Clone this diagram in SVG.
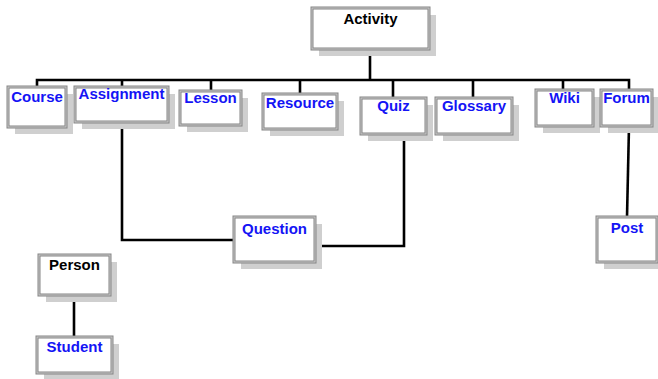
<svg xmlns="http://www.w3.org/2000/svg" width="658" height="379" viewBox="0 0 658 379">
  <style>
    .shadow { fill: #cfcfcf; }
    .frame { fill: #ffffff; stroke: #858585; stroke-width: 3; }
    .frame-in { fill: none; stroke: #cacaca; stroke-width: 1; }
    .label { font-family: "Liberation Sans", Arial, sans-serif; font-weight: bold; font-size: 15px; text-anchor: middle; fill: #1414f5; }
    .label.root { fill: #000000; }
    .wire { fill: none; stroke: #000000; stroke-width: 2.6; stroke-linejoin: miter; }
  </style>

  <!-- connectors -->
  <g id="connectors">
    <path class="wire" d="M370,49 V80"/>
    <path class="wire" d="M37,87 V80 H629 V90"/>
    <path class="wire" d="M122,80 V87"/>
    <path class="wire" d="M211,80 V91"/>
    <path class="wire" d="M300,80 V94"/>
    <path class="wire" d="M393,80 V98"/>
    <path class="wire" d="M473,80 V98"/>
    <path class="wire" d="M563,80 V90"/>
    <path class="wire" d="M122,122 V240 H234"/>
    <path class="wire" d="M315,246 H404 V134"/>
    <path class="wire" d="M629,126 L627,217"/>
    <path class="wire" d="M74,295 V337"/>
  </g>

  <g id="activity">
    <rect class="shadow" x="319" y="15" width="117" height="41"/>
    <rect class="frame" x="312" y="8" width="117" height="41"/>
    <rect class="frame-in" x="312" y="8" width="117" height="41"/>
    <text class="label root" x="370.5" y="24">Activity</text>
  </g>

  <g id="course">
    <rect class="shadow" x="15" y="94" width="58" height="40"/>
    <rect class="frame" x="8" y="87" width="58" height="40"/>
    <rect class="frame-in" x="8" y="87" width="58" height="40"/>
    <text class="label" x="37" y="102">Course</text>
  </g>

  <g id="assignment">
    <rect class="shadow" x="82" y="94" width="93" height="35"/>
    <rect class="frame" x="75" y="87" width="93" height="35"/>
    <rect class="frame-in" x="75" y="87" width="93" height="35"/>
    <text class="label" x="121.5" y="99">Assignment</text>
  </g>

  <g id="lesson">
    <rect class="shadow" x="187" y="98" width="61" height="34"/>
    <rect class="frame" x="180" y="91" width="61" height="34"/>
    <rect class="frame-in" x="180" y="91" width="61" height="34"/>
    <text class="label" x="210.5" y="103">Lesson</text>
  </g>

  <g id="resource">
    <rect class="shadow" x="270" y="101" width="74" height="35"/>
    <rect class="frame" x="263" y="94" width="74" height="35"/>
    <rect class="frame-in" x="263" y="94" width="74" height="35"/>
    <text class="label" x="300" y="108">Resource</text>
  </g>

  <g id="quiz">
    <rect class="shadow" x="368" y="105" width="65" height="36"/>
    <rect class="frame" x="361" y="98" width="65" height="36"/>
    <rect class="frame-in" x="361" y="98" width="65" height="36"/>
    <text class="label" x="393.5" y="111">Quiz</text>
  </g>

  <g id="glossary">
    <rect class="shadow" x="443" y="105" width="76" height="36"/>
    <rect class="frame" x="436" y="98" width="76" height="36"/>
    <rect class="frame-in" x="436" y="98" width="76" height="36"/>
    <text class="label" x="474" y="111">Glossary</text>
  </g>

  <g id="wiki">
    <rect class="shadow" x="543" y="97" width="57" height="36"/>
    <rect class="frame" x="536" y="90" width="57" height="36"/>
    <rect class="frame-in" x="536" y="90" width="57" height="36"/>
    <text class="label" x="564.5" y="103">Wiki</text>
  </g>

  <g id="forum">
    <rect class="shadow" x="608" y="97" width="51" height="36"/>
    <rect class="frame" x="601" y="90" width="51" height="36"/>
    <rect class="frame-in" x="601" y="90" width="51" height="36"/>
    <text class="label" x="626.5" y="103">Forum</text>
  </g>

  <g id="question">
    <rect class="shadow" x="241" y="224" width="81" height="45"/>
    <rect class="frame" x="234" y="217" width="81" height="45"/>
    <rect class="frame-in" x="234" y="217" width="81" height="45"/>
    <text class="label" x="274.5" y="234">Question</text>
  </g>

  <g id="post">
    <rect class="shadow" x="604" y="224" width="60" height="45"/>
    <rect class="frame" x="597" y="217" width="60" height="45"/>
    <rect class="frame-in" x="597" y="217" width="60" height="45"/>
    <text class="label" x="627" y="233">Post</text>
  </g>

  <g id="person">
    <rect class="shadow" x="46" y="262" width="71" height="40"/>
    <rect class="frame" x="39" y="255" width="71" height="40"/>
    <rect class="frame-in" x="39" y="255" width="71" height="40"/>
    <text class="label root" x="74.5" y="270">Person</text>
  </g>

  <g id="student">
    <rect class="shadow" x="44" y="344" width="75" height="36"/>
    <rect class="frame" x="37" y="337" width="75" height="36"/>
    <rect class="frame-in" x="37" y="337" width="75" height="36"/>
    <text class="label" x="74.5" y="352">Student</text>
  </g>
</svg>
